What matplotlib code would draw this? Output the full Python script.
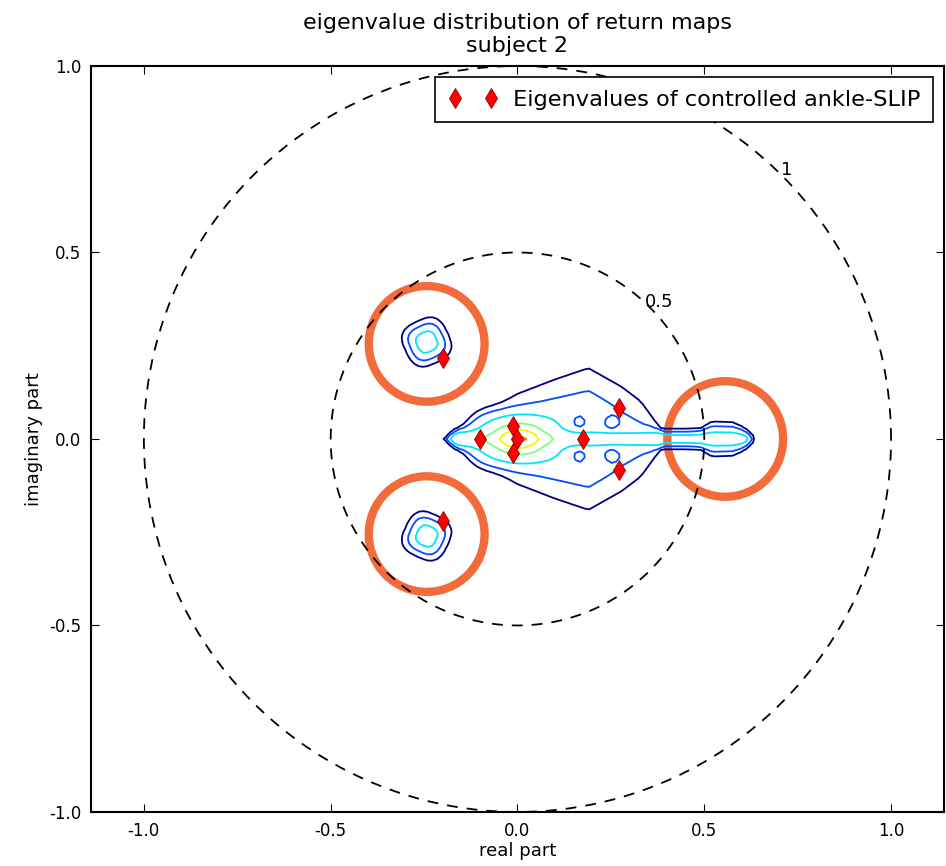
import numpy as np
import matplotlib
matplotlib.use("Agg")
import matplotlib.pyplot as plt
from matplotlib.patches import Circle

plt.rcParams["axes.unicode_minus"] = False

# eigenvalues of the controlled ankle-SLIP return map
eig_re = [-0.20, -0.20, -0.10, -0.013, 0.0, -0.013, 0.176, 0.273, 0.273]
eig_im = [0.217, -0.220, 0.0, 0.035, 0.0, -0.037, 0.0, 0.083, -0.083]

# density of bootstrapped eigenvalues near the real axis:
# a flat-topped plateau (height, half width) ...
plat_x = [-0.20, -0.18, -0.10, -0.05, 0.00, 0.10, 0.19, 0.28, 0.33, 0.38, 0.40]
plat_h = [0.0, 0.10, 0.10, 0.10, 0.10, 0.10, 0.10, 0.072, 0.066, 0.066, 0.0]
plat_w = [0.001, 0.010, 0.058, 0.078, 0.103, 0.136, 0.162, 0.128, 0.095, 0.03, 0.001]
# ... a thin ridge on the real axis (height, width) ...
ridge_x = [-0.185, -0.16, -0.10, 0.0, 0.10, 0.20, 0.30, 0.38, 0.45, 0.49, 0.52, 0.58, 0.61, 0.635]
ridge_h = [0.0, 0.20, 0.15, 0.10, 0.12, 0.15, 0.18, 0.22, 0.22, 0.22, 0.22, 0.22, 0.20, 0.0]
ridge_s = [0.012, 0.012, 0.012, 0.012, 0.012, 0.012, 0.012, 0.012, 0.012, 0.013, 0.021, 0.02, 0.013, 0.005]
# ... small gaps in the plateau (re, im, size, depth) ...
dip_x = [0.165, 0.165, 0.25, 0.25]
dip_y = [0.045, -0.045, 0.042, -0.042]
dip_s = [0.014, 0.014, 0.013, 0.013]
dip_d = [0.07, 0.07, 0.05, 0.05]
# ... a shoulder and a peak near the origin (re, im, width re, width im, height) ...
shoulder = (0.005, 0.0, 0.12, 0.072, 0.08)
core = (0.005, 0.0, 0.0435, 0.0267, 0.62)
# ... and the complex pair (re, im, size, height, tilt in degrees)
pair_x = [-0.243, -0.243]
pair_y = [0.26, -0.26]
pair_a = [0.038, 0.038]
pair_h = [0.25, 0.25]
pair_tilt = [25, -25]

levels = [0.02, 0.06, 0.15, 0.35, 0.6, 0.85]
level_pos = [0.0, 0.2, 0.35, 0.5, 0.65, 0.8]

# highlighted regions (centre re, centre im, radius)
ring_x = [-0.243, -0.243, 0.556]
ring_y = [0.255, -0.255, 0.0]
ring_r = [0.155, 0.155, 0.155]

gx, gy = np.meshgrid(np.arange(-0.6, 0.9001, 0.012), np.arange(-0.5, 0.5001, 0.01))
ay = np.abs(gy)

w = np.interp(gx, plat_x, plat_w)
dens = np.interp(gx, plat_x, plat_h) * np.exp(-(ay / w) ** 3)
s = np.interp(gx, ridge_x, ridge_s)
dens += np.interp(gx, ridge_x, ridge_h) * np.exp(-0.5 * (ay / s) ** 2)
for dx, dy, ds, dd in zip(dip_x, dip_y, dip_s, dip_d):
    dens -= dd * np.exp(-0.5 * ((gx - dx) ** 2 + (gy - dy) ** 2) / ds ** 2)
cx, cy, sx, sy, h = shoulder
dens += h * np.exp(-(np.abs(gx - cx) / sx) ** 4 - (np.abs(gy - cy) / sy) ** 4)
cx, cy, sx, sy, h = core
dens += h * np.exp(-0.5 * (((gx - cx) / sx) ** 2 + ((gy - cy) / sy) ** 2))
for px, py, a, h, tilt in zip(pair_x, pair_y, pair_a, pair_h, pair_tilt):
    th = np.radians(tilt)
    u = (gx - px) * np.cos(th) + (gy - py) * np.sin(th)
    v = -(gx - px) * np.sin(th) + (gy - py) * np.cos(th)
    r = (np.abs(u) ** 3 + np.abs(v) ** 3) ** (1 / 3)
    dens += h * np.exp(-(r / a) ** 2)

fig = plt.figure(figsize=(9.46, 8.66), dpi=100)
ax = fig.add_axes([0.096, 0.0624, 0.902, 0.8614])

ax.contour(gx, gy, dens, levels=levels, colors=[plt.cm.jet(p) for p in level_pos],
           linewidths=1.3)

# unit circle and half circle
t = np.linspace(0, 2 * np.pi, 400)
for r in (1.0, 0.5):
    ax.plot(r * np.cos(t), r * np.sin(t), "k--", lw=1.3, dashes=(6, 5))
ax.text(0.72, 0.72, "1", fontsize=13, ha="center", va="center")
ax.text(0.38, 0.367, "0.5", fontsize=13, ha="center", va="center")

ax.plot(eig_re, eig_im, "d", color="red", mec="darkred", mew=0.6, ms=10,
        ls="none", label="Eigenvalues of controlled ankle-SLIP")

for cx, cy, r in zip(ring_x, ring_y, ring_r):
    ax.add_patch(Circle((cx, cy), r, fill=False, ec="#f36a3b", lw=6))

ax.set_xlim(-1.142, 1.142)
ax.set_ylim(-1.0, 1.0)
ax.set_xticks([-1.0, -0.5, 0.0, 0.5, 1.0])
ax.set_yticks([-1.0, -0.5, 0.0, 0.5, 1.0])
ax.tick_params(direction="in", top=True, right=True, labelsize=12, length=6, pad=7)
ax.set_xlabel("real part", fontsize=13, labelpad=2)
ax.set_ylabel("imaginary part", fontsize=13)
ax.set_title("eigenvalue distribution of return maps\nsubject 2", fontsize=16, pad=10)

leg = ax.legend(loc="upper right", numpoints=2, fontsize=16.2, fancybox=False,
                framealpha=1, edgecolor="black", borderaxespad=0.5,
                borderpad=0.55, handletextpad=0.7, handlelength=2.2)
leg.get_frame().set_linewidth(1.2)
for sp in ax.spines.values():
    sp.set_linewidth(1.5)

fig.savefig("out.png", dpi=100)
